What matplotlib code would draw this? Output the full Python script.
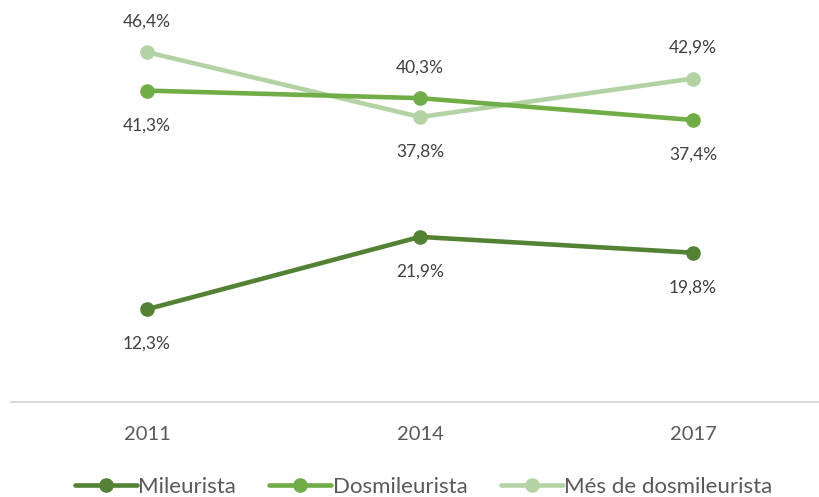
import matplotlib
matplotlib.use('Agg')
from matplotlib import pyplot as plt

# data
anys = ['2011', '2014', '2017']
mileurista = [12.3, 21.9, 19.8]
dosmileurista = [41.3, 40.3, 37.4]
mes_dosmil = [46.4, 37.8, 42.9]

series = [
  ('Mileurista', mileurista, '#548235', ['below', 'below', 'below']),
  ('Dosmileurista', dosmileurista, '#70ad47', ['below', 'above', 'below']),
  ('Més de dosmileurista', mes_dosmil, '#b4d3a4', ['above', 'below', 'above']),
]

plt.rcParams['font.family'] = ['Lato', 'DejaVu Sans']

fig = plt.figure(figsize=(8.19, 4.97), dpi=100)
ax = fig.add_axes([10.5 / 819, 95 / 497, 1.0, 377 / 497])
x = list(range(len(anys)))

# draw light first so dark sits on top like the original
for nom, vals, col, pos in reversed(series):
  ax.plot(x, vals, color=col, linewidth=3.3, marker='o', markersize=9.5,
          label=nom, solid_capstyle='round', clip_on=False)
  for xi, v, p in zip(x, vals, pos):
    dy = 22 if p == 'above' else -25
    txt = f'{v:.1f}%'.replace('.', ',')
    ax.annotate(txt, (xi, v), xytext=(0, dy), textcoords='offset points',
                ha='center', va='center', fontsize=12.5, color='#404040')

ax.set_xlim(-0.5, 2.5)
ax.set_ylim(0, 50)
ax.set_xticks(x)
ax.set_xticklabels(anys, fontsize=14.5, color='#595959')
ax.set_yticks([])
ax.tick_params(axis='x', length=0, pad=17)
for s in ['top', 'right', 'left']:
  ax.spines[s].set_visible(False)
ax.spines['bottom'].set_color('#d9d9d9')
ax.spines['bottom'].set_linewidth(1.5)

h, l = ax.get_legend_handles_labels()
fig.legend(h[::-1], l[::-1], loc='center', bbox_to_anchor=(0.517, 0.02),
           ncol=3, frameon=False, fontsize=16, handlelength=2.8,
           handletextpad=0.05, columnspacing=1.5, labelcolor='#595959')

fig.savefig('out.png', dpi=100)
